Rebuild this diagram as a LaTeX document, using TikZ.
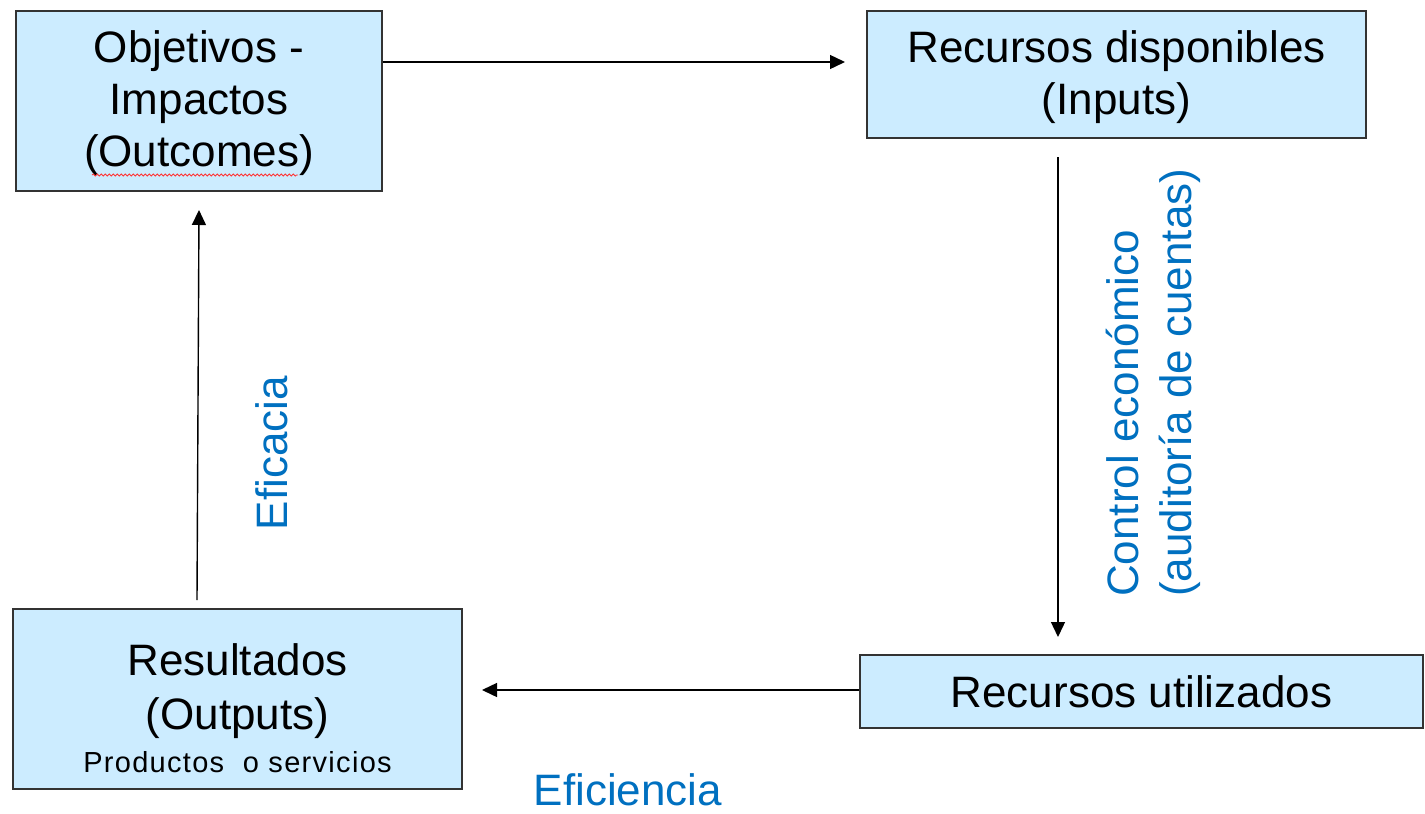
\documentclass[tikz,border=0pt]{standalone}
\usepackage{fontspec}
\setmainfont{Liberation Sans}
\usetikzlibrary{arrows.meta,decorations.pathmorphing}
\definecolor{boxfill}{RGB}{204,236,255}
\definecolor{lblue}{RGB}{0,112,192}
\newcommand\mystrut[1]{\rule{0pt}{#1}}
\begin{document}
\begin{tikzpicture}[x=1pt,y=-1pt,
  box/.style={draw=black!80,line width=1.6pt,fill=boxfill,inner sep=0pt,align=center,font=\fontsize{44}{52}\selectfont},
  arr/.style={line width=1.4pt,-{Triangle[length=15pt,width=14pt]}},
  lbl/.style={text=lblue,font=\fontsize{44}{53}\selectfont,inner sep=0pt},
  wavy/.style={draw=red!80,line width=0.8pt,decorate,decoration={snake,amplitude=1pt,segment length=4pt}}]
\useasboundingbox[fill=white] (0,0) rectangle (1425,814);
\node[box,minimum width=366pt,minimum height=180pt] (obj) at (199,101) {\mystrut{37pt}Objetivos -\\Impactos\\(Outcomes)};
\node[box,minimum width=499pt,minimum height=127pt] (rd) at (1116.5,74.5) {\mystrut{38pt}Recursos disponibles\\(Inputs)};
\node[box,minimum width=449pt,minimum height=180pt,font=\fontsize{44}{54}\selectfont] (res) at (237.5,699) {\mystrut{51pt}Resultados\\(Outputs)\\[-11pt]{\fontsize{29}{34}\selectfont\addfontfeature{LetterSpace=4.5}Productos\ \ o servicios}};
\node[box,minimum width=563pt,minimum height=73pt] (ru) at (1141.5,691.5) {Recursos utilizados};
\coordinate (a1e) at (845,62);
\draw[arr] (obj.east |- a1e) -- (a1e);
\coordinate (a2s) at (1058,157);
\coordinate (a2e) at (1058,637);
\draw[arr] (a2s) -- (a2e);
\coordinate (a3e) at (482,690);
\draw[arr] (ru.west |- a3e) -- (a3e);
\coordinate (a4s) at (197,600);
\coordinate (a4e) at (199,210);
\draw[arr] (a4s) -- (a4e);
\node[lbl,rotate=90,anchor=base] (efc) at (287,453) {Eficacia};
\node[lbl,rotate=90,anchor=west,align=left] (ctl) at (1153,597) {Control económico\\(auditoría de cuentas)};
\node[lbl,anchor=base] (efi) at (628,805) {Eficiencia};
\coordinate (w1) at (92,175);
\coordinate (w2) at (298,175);
\path[wavy] (w1) -- (w2);
\end{tikzpicture}
\end{document}
